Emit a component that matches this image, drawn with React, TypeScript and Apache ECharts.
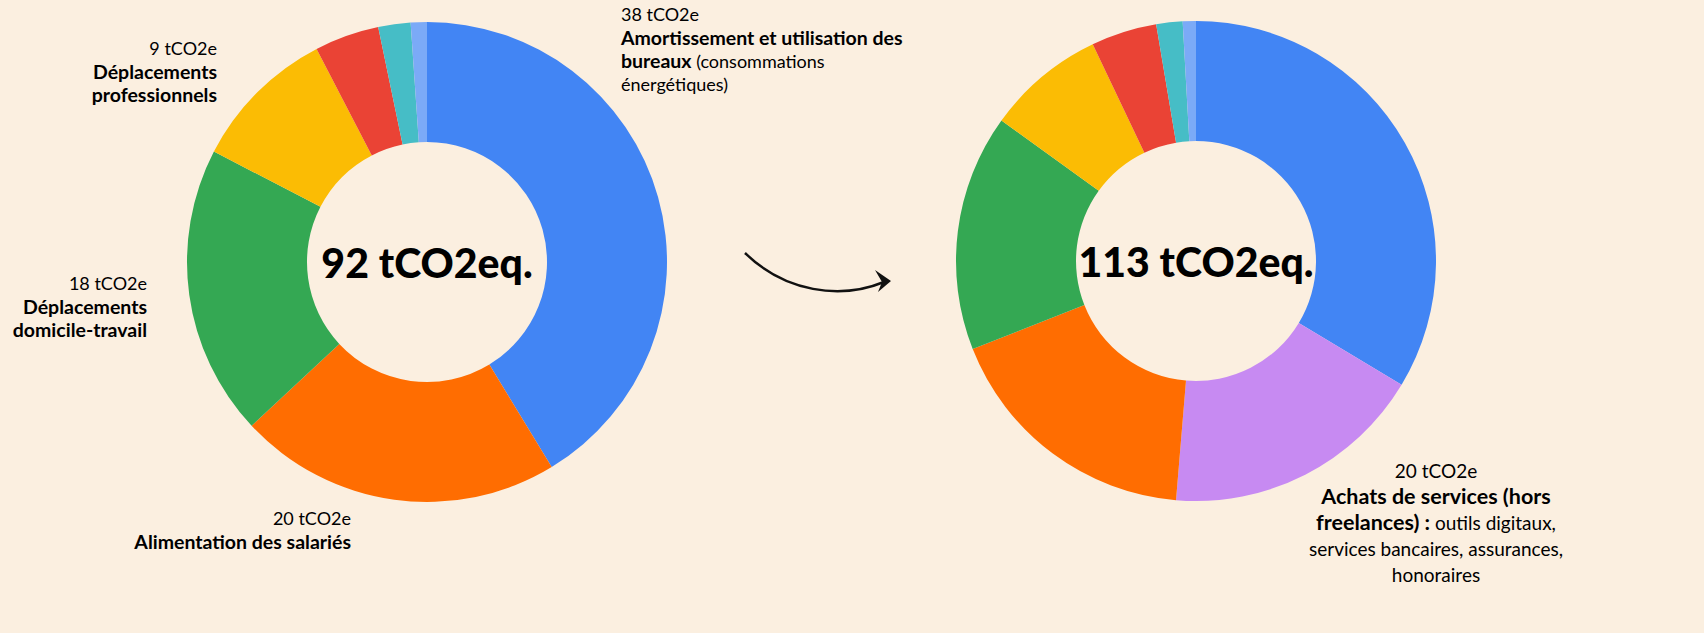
import React, { useEffect, useRef } from "react";
import * as echarts from "echarts";

const categories = [
  "Amortissement et utilisation des bureaux",
  "Achats de services (hors freelances)",
  "Alimentation des salariés",
  "Déplacements domicile-travail",
  "Déplacements professionnels",
  "Autre poste A",
  "Autre poste B",
  "Autre poste C",
];
const colors = ["#4285F4", "#C78AF2", "#FF6D01", "#34A853", "#FBBC04", "#EA4335", "#46BDC6", "#7BAAF7"];
const valuesBefore = [38, null, 20, 18, 9, 4, 2, 1];
const valuesAfter = [38, 20, 20, 18, 9, 5, 2, 1];
const unitLabel = "tCO2e";
const totalUnit = "tCO2eq.";

const BG = "#FBEFE0";
const FONT = "Lato";

function buildData(vals: (number | null)[]) {
  return vals
    .map((v, i) => (v == null ? null : { name: categories[i], value: v, itemStyle: { color: colors[i] } }))
    .filter((d) => d !== null);
}
function sum(vals: (number | null)[]) {
  return vals.reduce((a: number, b) => a + (b || 0), 0);
}

export default function App() {
  const ref = useRef<HTMLDivElement>(null);
  useEffect(() => {
    document.body.style.margin = "0";
    document.body.style.background = BG;
    const chart = echarts.init(ref.current!, null, { renderer: "svg" });
    const rich18 = {
      n: { fontFamily: FONT, fontSize: 18, lineHeight: 23.5, color: "#111" },
      b: { fontFamily: FONT, fontSize: 19.5, lineHeight: 23.5, color: "#111", fontWeight: "bold" },
    };
    const rich20 = {
      n: { fontFamily: FONT, fontSize: 19, lineHeight: 26, color: "#111" },
      b: { fontFamily: FONT, fontSize: 21.5, lineHeight: 26, color: "#111", fontWeight: "bold" },
    };
    const label = (x: number, y: number, align: string, text: string, rich: any) => ({
      type: "text",
      x,
      y,
      style: { text, align, verticalAlign: "top", rich, fontFamily: FONT },
    });
    const seriesBase = {
      type: "pie",
      radius: [120, 240],
      startAngle: 90,
      clockwise: true,
      label: { show: false },
      labelLine: { show: false },
      emphasis: { disabled: true },
      silent: true,
    };
    const centerText = (x: number, y: number, t: string) => ({
      type: "text",
      x,
      y,
      style: {
        text: t,
        align: "center",
        verticalAlign: "middle",
        fontFamily: FONT,
        fontWeight: 900,
        fontSize: 41,
        fill: "#000",
      },
    });
    chart.setOption({
      animation: false,
      backgroundColor: BG,
      series: [
        { ...seriesBase, center: [427, 262], data: buildData(valuesBefore) },
        { ...seriesBase, center: [1196, 261], data: buildData(valuesAfter) },
      ],
      graphic: [
        centerText(427, 262, `${sum(valuesBefore)} ${totalUnit}`),
        centerText(1196, 261, `${sum(valuesAfter)} ${totalUnit}`),
        label(621, 2, "left",
          `{n|${valuesAfter[0]} ${unitLabel}}\n{b|Amortissement et utilisation des}\n{b|bureaux}{n| (consommations}\n{n|énergétiques)}`, rich18),
        label(217, 36, "right", `{n|${valuesBefore[4]} ${unitLabel}}\n{b|Déplacements}\n{b|professionnels}`, rich18),
        label(147, 271, "right", `{n|${valuesBefore[3]} ${unitLabel}}\n{b|Déplacements}\n{b|domicile-travail}`, rich18),
        label(351, 506, "right", `{n|${valuesBefore[2]} ${unitLabel}}\n{b|Alimentation des salariés}`, rich18),
        label(1436, 457, "center",
          `{n|${valuesAfter[1]} ${unitLabel}}\n{b|Achats de services (hors}\n{b|freelances) :}{n| outils digitaux,}\n{n|services bancaires, assurances,}\n{n|honoraires}`, rich20),
        {
          type: "bezierCurve",
          shape: { x1: 745, y1: 253, cpx1: 785, cpy1: 292, cpx2: 840, cpy2: 300, x2: 884, y2: 282 },
          style: { stroke: "#111", lineWidth: 2.5, fill: "none" },
        },
        {
          type: "polygon",
          shape: { points: [[875, 270], [891, 281], [878, 292], [882, 282]] },
          style: { fill: "#111" },
        },
      ],
    });
    return () => chart.dispose();
  }, []);
  return <div ref={ref} style={{ width: 1704, height: 633 }} />;
}
